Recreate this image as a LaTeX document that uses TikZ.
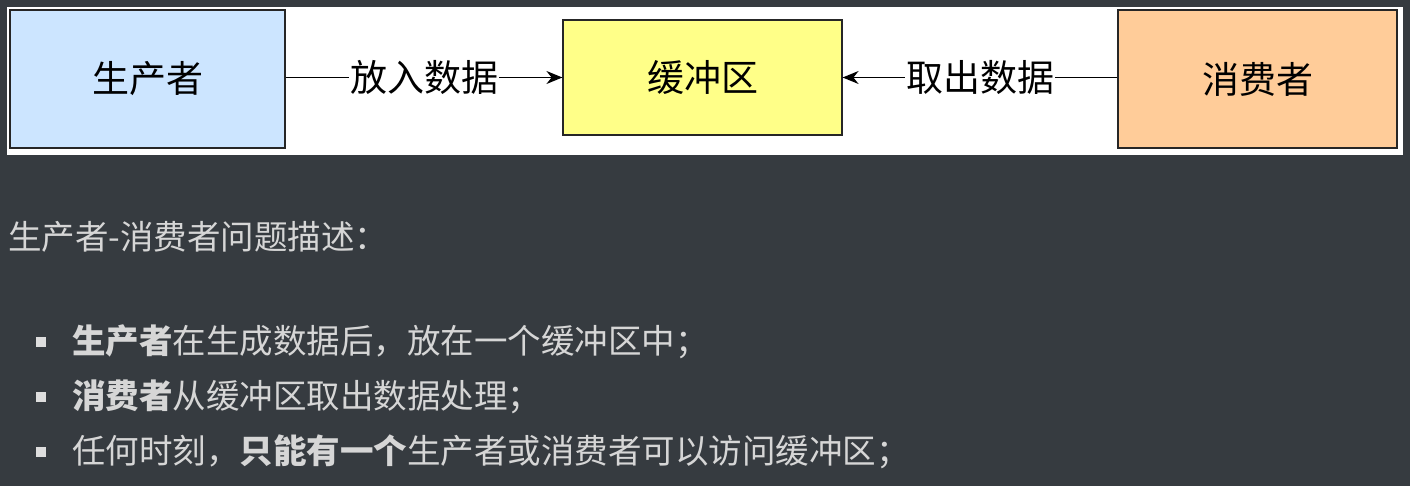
\documentclass[tikz,border=0pt]{standalone}
\usepackage{fontspec}
\setmainfont{Noto Sans CJK SC}
\newfontfamily\cjk{Noto Sans CJK SC}
\usetikzlibrary{arrows.meta}
\definecolor{bgdark}{HTML}{363B40}
\definecolor{txt}{HTML}{D6D6D6}
\definecolor{pblue}{HTML}{CCE5FF}
\definecolor{pyel}{HTML}{FFFF88}
\definecolor{porg}{HTML}{FFCC99}
\tikzset{
  box/.style={draw=black!85,line width=1.2pt,inner sep=0pt,font=\cjk\fontsize{37}{42}\selectfont},
  lbl/.style={fill=white,inner sep=1pt,font=\cjk\fontsize{37}{42}\selectfont},
  conn/.style={line width=1.5pt,-{Stealth[length=16pt,width=13pt]}},
  body/.style={text=txt,anchor=west,inner sep=0pt,font=\cjk\fontsize{33.5}{38}\selectfont},
  bul/.style={fill=txt!80,draw=none,minimum size=10pt,inner sep=0pt}
}
\begin{document}
\begin{tikzpicture}[x=1pt,y=-1pt]
\fill[bgdark] (0,0) rectangle (1410,486);
\useasboundingbox (0,0) rectangle (1410,486);
\fill[white] (7,7) rectangle (1403,155);
\node[box,fill=pblue,minimum width=275pt,minimum height=138pt] (p) at (147.5,79) {生产者};
\node[box,fill=pyel,minimum width=279pt,minimum height=115pt] (b) at (702.5,77.5) {缓冲区};
\node[box,fill=porg,minimum width=279pt,minimum height=138pt] (c) at (1257.5,79) {消费者};
\draw[conn] (p.east |- b) -- node[lbl] {放入数据} (b.west);
\draw[conn] (c.west |- b) -- node[lbl] {取出数据} (b.east);
\node[body] (t0) at (8,237) {生产者-消费者问题描述：};
\node[bul] (s1) at (41,342) {};
\node[body] (t1) at (72,342) {\textbf{生产者}在生成数据后，放在一个缓冲区中；};
\node[bul] (s2) at (41,397) {};
\node[body] (t2) at (72,397) {\textbf{消费者}从缓冲区取出数据处理；};
\node[bul] (s3) at (41,452) {};
\node[body] (t3) at (72,452) {任何时刻，\textbf{只能有一个}生产者或消费者可以访问缓冲区；};
\end{tikzpicture}
\end{document}
